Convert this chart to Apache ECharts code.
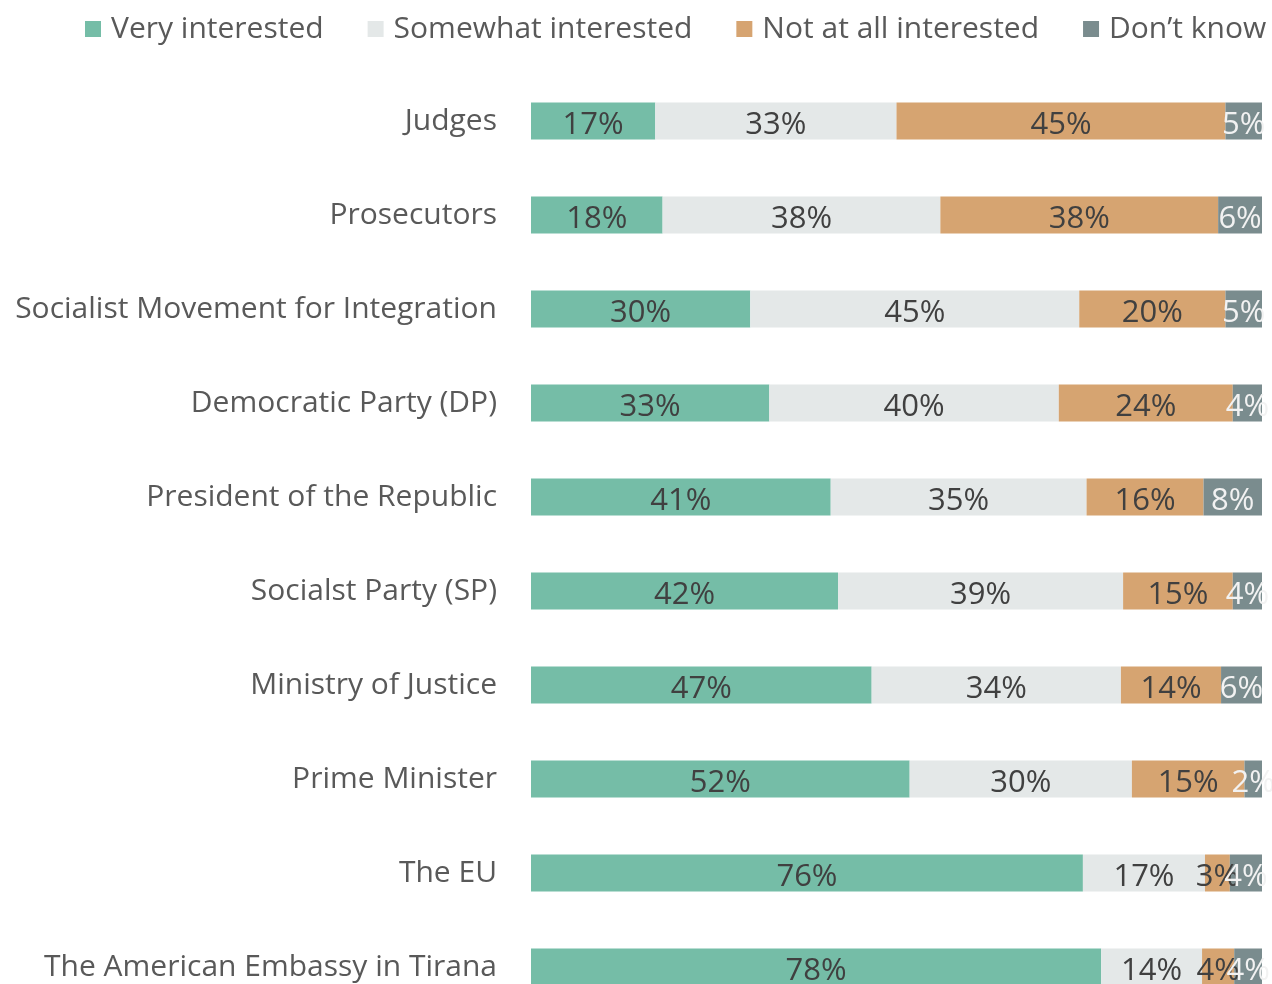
<!DOCTYPE html>
<html>
<head>
<meta charset="utf-8">
<script src="https://cdn.jsdelivr.net/npm/echarts@6/dist/echarts.min.js"></script>
<style>
  html, body { margin: 0; padding: 0; background: #fff; overflow: hidden; }
  #chart { width: 1272px; height: 1030px; }
</style>
</head>
<body>
<div id="chart"></div>
<script>
const categories = [
  'Judges',
  'Prosecutors',
  'Socialist Movement for Integration',
  'Democratic Party (DP)',
  'President of the Republic',
  'Socialst Party (SP)',
  'Ministry of Justice',
  'Prime Minister',
  'The EU',
  'The American Embassy in Tirana'
]
const seriesNames = ['Very interested', 'Somewhat interested', 'Not at all interested', 'Don\u2019t know']
const veryInterested = [17, 18, 30, 32.6, 41, 42, 46.6, 51.8, 75.5, 78]
const somewhatInterested = [33, 38, 45, 39.6, 35, 39, 34.1, 30.4, 16.7, 13.8]
const notInterested = [45, 38, 20, 23.8, 16, 15, 13.7, 15.4, 3.4, 4.4]
const dontKnow = [5, 6, 5, 4, 8, 4, 5.6, 2.4, 4.4, 3.8]

const colors = ['#75bda7', '#e4e8e8', '#d6a471', '#7a8c8e']
const labelColors = ['#404040', '#404040', '#404040', '#f2f2f2']
const values = [veryInterested, somewhatInterested, notInterested, dontKnow]
const fontFamily = '"Open Sans", "Noto Sans", sans-serif'

const myChart = echarts.init(document.getElementById('chart'))

myChart.setOption({
  animation: false,
  color: colors,
  legend: {
    data: seriesNames,
    left: 80,
    top: 9,
    itemWidth: 16,
    itemHeight: 16,
    itemGap: 44,
    icon: 'rect',
    textStyle: {
      fontFamily: fontFamily,
      fontSize: 30,
      color: '#595959',
      padding: [0, 0, 0, 5]
    }
  },
  grid: {
    left: 531,
    right: 10,
    top: 74,
    bottom: 16,
    containLabel: false
  },
  xAxis: {
    type: 'value',
    min: 0,
    max: 100,
    show: false
  },
  yAxis: {
    type: 'category',
    data: categories,
    inverse: true,
    axisLine: { show: false },
    axisTick: { show: false },
    axisLabel: {
      margin: 34,
      fontFamily: fontFamily,
      fontSize: 30,
      color: '#595959',
      padding: [10, 0, 0, 0]
    }
  },
  series: seriesNames.map((name, i) => ({
    name: name,
    type: 'bar',
    stack: 'total',
    barWidth: 37,
    data: values[i],
    itemStyle: { color: colors[i] },
    label: {
      show: true,
      position: 'inside',
      offset: [0, 4],
      fontFamily: fontFamily,
      fontSize: 31,
      color: labelColors[i],
      formatter: p => Math.round(p.value) + '%'
    }
  }))
})
</script>
</body>
</html>
